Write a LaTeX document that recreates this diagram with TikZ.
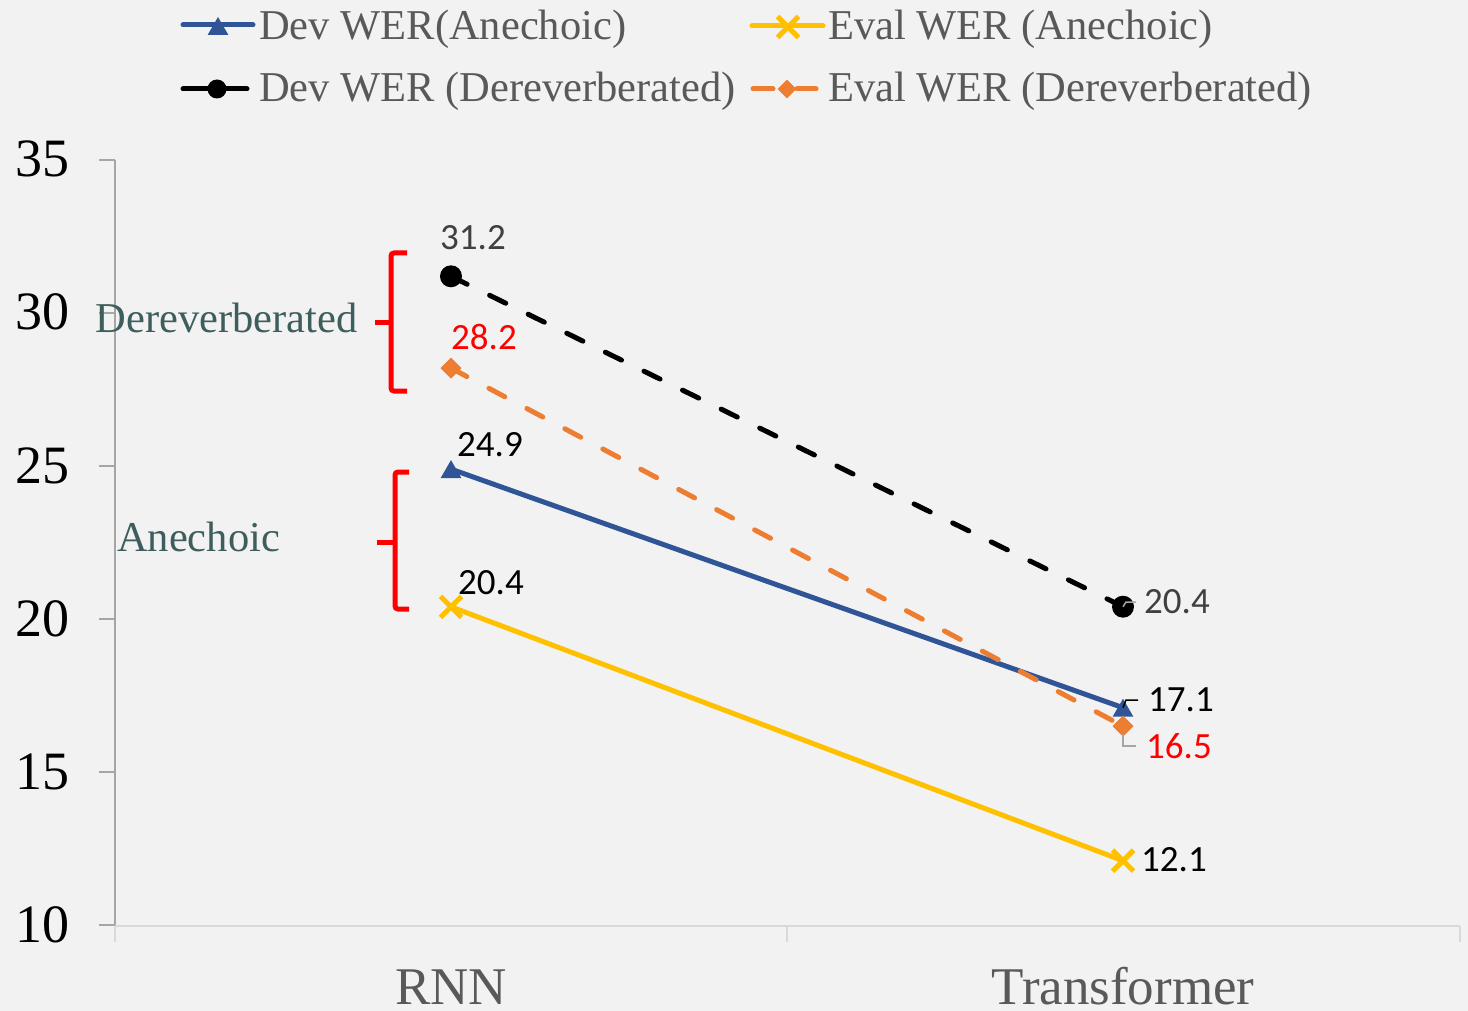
\documentclass[tikz,border=0pt]{standalone}
\usepackage{fontspec}
\setmainfont{Liberation Serif}
\newfontfamily\datafont{Carlito}
\usetikzlibrary{shapes.geometric,shapes.misc}
\definecolor{bg}{HTML}{F2F2F2}
\definecolor{devblue}{HTML}{2F5597}
\definecolor{evalgold}{HTML}{FFC000}
\definecolor{evalorange}{HTML}{ED7D31}
\definecolor{axisgray}{HTML}{A6A6A6}
\definecolor{gridgray}{HTML}{D9D9D9}
\definecolor{legendgray}{HTML}{595959}
\definecolor{labeldark}{HTML}{404040}
\definecolor{groupteal}{RGB}{62,94,94}
\begin{document}
\begin{tikzpicture}[x=1pt,y=-1pt,
  seriesline/.style={line width=5pt,line cap=round},
  dashedseries/.style={line width=5pt,line cap=round,dash pattern=on 18pt off 25pt},
  trimark/.style={regular polygon,regular polygon sides=3,fill=devblue,inner sep=0pt,minimum size=24pt,yshift=-3pt},
  dotmark/.style={circle,fill=black,inner sep=0pt,minimum size=22pt},
  diamark/.style={diamond,fill=evalorange,inner sep=0pt,minimum width=21pt,minimum height=21pt},
  xmark/.style={cross out,draw=evalgold,line width=5pt,inner sep=0pt,minimum size=16pt},
  axisnum/.style={anchor=base east,inner sep=0pt,font=\fontsize{54}{54}\selectfont},
  catlabel/.style={anchor=base,inner sep=0pt,text=legendgray,font=\fontsize{53}{53}\selectfont},
  legendtext/.style={anchor=base west,inner sep=0pt,text=legendgray,font=\fontsize{42.5}{45}\selectfont},
  grouplabel/.style={anchor=base,inner sep=0pt,text=groupteal,font=\fontsize{42.5}{45}\selectfont},
  datalabel/.style={inner sep=0pt,font=\datafont\fontsize{37}{37}\selectfont},
  bracket/.style={draw=red,line width=5pt,rounded corners=3pt},
  leader/.style={line width=1.5pt}]

% canvas
\useasboundingbox (0,0) rectangle (1468,1011);
\fill[bg] (0,0) rectangle (1468,1011);

% value axis with ticks and numbers
\draw[axisgray,line width=2pt] (115,160) -- (115,926);
\foreach \yy/\vv in {160/35,313/30,466/25,619/20,772/15,925/10}{
  \draw[axisgray,line width=2pt] (99,\yy) -- (115,\yy);
  \node[axisnum] (num\vv) at (70,\yy+17) {\vv};
}

% category axis
\draw[gridgray,line width=2pt] (115,926) -- (1460,926);
\foreach \xx in {115,787,1460}{
  \draw[gridgray,line width=2pt] (\xx,926) -- (\xx,942);
}
\node[catlabel] (catrnn) at (451,1004) {RNN};
\node[catlabel] (cattrans) at (1123,1004) {Transformer};

% data points
\coordinate (da1) at (451,469.1);
\coordinate (da2) at (1123,707.7);
\coordinate (ea1) at (451,606.8);
\coordinate (ea2) at (1123,860.7);
\coordinate (dd1) at (451,276.3);
\coordinate (dd2) at (1123,606.7);
\coordinate (ed1) at (451,368.1);
\coordinate (ed2) at (1123,726.1);

% series
\draw[seriesline,devblue] (da1) -- (da2);
\node[trimark] (mda1) at (da1) {};
\node[trimark] (mda2) at (da2) {};
\draw[seriesline,evalgold] (ea1) -- (ea2);
\node[xmark] (mea1) at (ea1) {};
\node[xmark] (mea2) at (ea2) {};
\draw[dashedseries,black] (dd1) -- (dd2);
\node[dotmark] (mdd1) at (dd1) {};
\node[dotmark] (mdd2) at (dd2) {};
\draw[dashedseries,evalorange] (ed1) -- (ed2);
\node[diamark] (med1) at (ed1) {};
\node[diamark] (med2) at (ed2) {};

% data labels
\node[datalabel,text=labeldark] (l312) at (473,238) {31.2};
\node[datalabel,text=red] (l282) at (484,337) {28.2};
\node[datalabel,text=black] (l249) at (490,445) {24.9};
\node[datalabel,text=black] (l204a) at (491,583) {20.4};
\node[datalabel,text=labeldark] (l204b) at (1177,602) {20.4};
\node[datalabel,text=black] (l171) at (1181,700) {17.1};
\node[datalabel,text=red] (l165) at (1179,746) {16.5};
\node[datalabel,text=black] (l121) at (1174,860) {12.1};

% leader lines
\draw[leader,axisgray] ([xshift=-8pt]l204b.west) -- ++(-10,0) -- (dd2);
\draw[leader,black] ([xshift=-10pt]l171.west) -- ++(-12,0) -- (da2);
\draw[leader,axisgray] ([xshift=-10pt]l165.west) -- ++(-13,0) -- ++(0,-12);

% group brackets
\draw[bracket] (407,253) -- (391,253) -- (391,391) -- (407,391);
\draw[bracket] (375,322) -- (391,322);
\draw[bracket] (409,472) -- (395,472) -- (395,609) -- (409,609);
\draw[bracket] (377,542) -- (395,542);
\node[grouplabel] (gderev) at (226.5,332) {Dereverberated};
\node[grouplabel] (ganech) at (198.5,551) {Anechoic};

% legend
\draw[seriesline,devblue] (183,25) -- (253,25);
\node[trimark] (kda) at (218,26) {};
\node[legendtext] (tda) at (259,40) {Dev WER(Anechoic)};
\draw[seriesline,evalgold] (752,26) -- (823,26);
\node[xmark] (kea) at (788,27) {};
\node[legendtext] (tea) at (828,40) {Eval WER (Anechoic)};
\draw[seriesline,black] (183,89) -- (247,89);
\node[dotmark,minimum size=19pt] (kdd) at (217,89) {};
\node[legendtext] (tdd) at (259,102) {Dev WER (Dereverberated)};
\draw[seriesline,evalorange] (753,89) -- (773,89);
\draw[seriesline,evalorange] (797,89) -- (816,89);
\node[diamark,minimum width=19pt,minimum height=19pt] (ked) at (787,89) {};
\node[legendtext] (ted) at (828,102) {Eval WER (Dereverberated)};
\end{tikzpicture}
\end{document}
